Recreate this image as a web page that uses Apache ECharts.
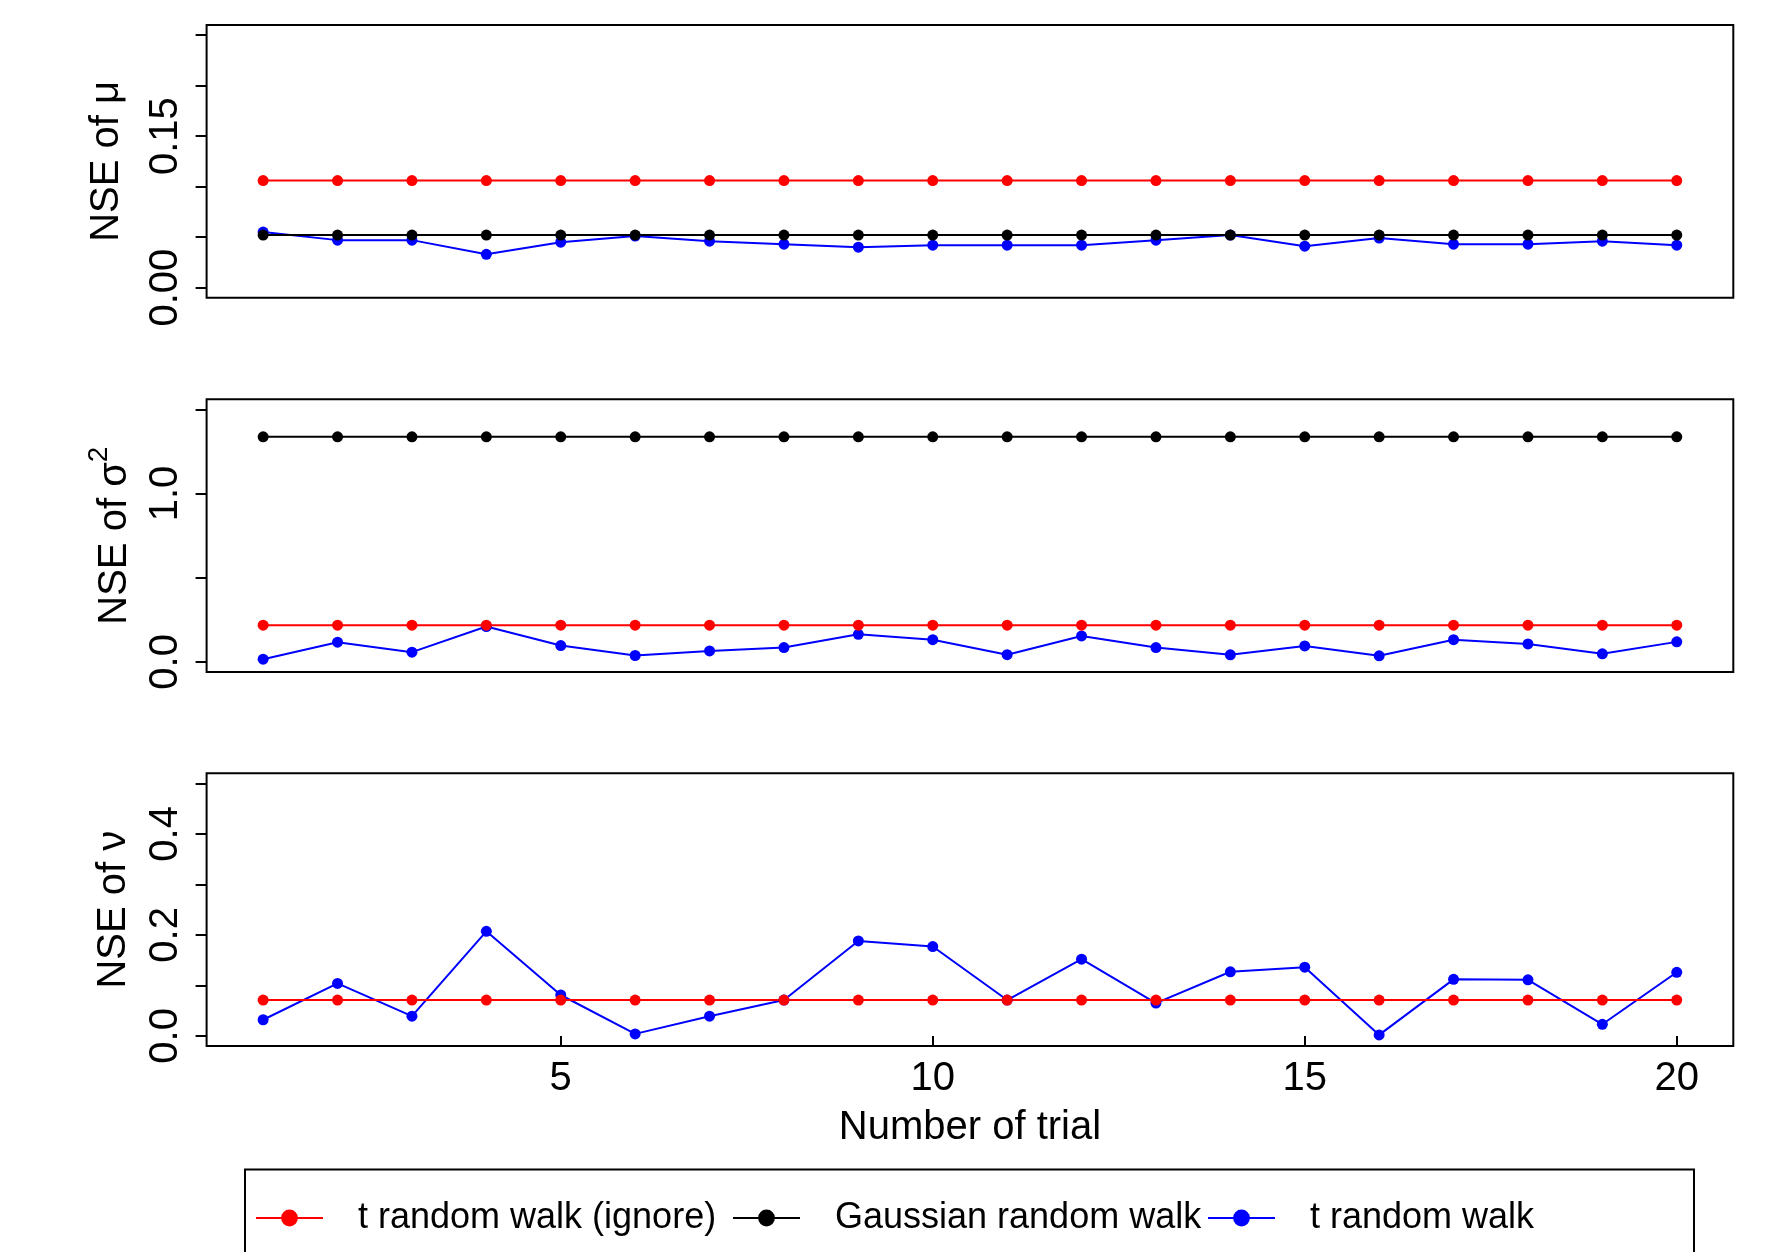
<!DOCTYPE html>
<html><head><meta charset="utf-8">
<script src="https://cdn.jsdelivr.net/npm/echarts@6/dist/echarts.min.js"></script>
<style>html,body{margin:0;padding:0;background:#fff}#c{width:1772px;height:1252px}</style>
</head><body><div id="c"></div>
<script>
// ---------- data ----------
const trials = [1,2,3,4,5,6,7,8,9,10,11,12,13,14,15,16,17,18,19,20];
const seriesNames = ['t random walk (ignore)', 'Gaussian random walk', 't random walk'];

const muTIgnore = [0.106,0.106,0.106,0.106,0.106,0.106,0.106,0.106,0.106,0.106,0.106,0.106,0.106,0.106,0.106,0.106,0.106,0.106,0.106,0.106];
const muGauss   = [0.052,0.052,0.052,0.052,0.052,0.052,0.052,0.052,0.052,0.052,0.052,0.052,0.052,0.052,0.052,0.052,0.052,0.052,0.052,0.052];
const muT       = [0.055,0.047,0.047,0.033,0.045,0.051,0.046,0.043,0.040,0.042,0.042,0.042,0.047,0.052,0.041,0.049,0.043,0.043,0.046,0.042];

const sigTIgnore = [0.218,0.218,0.218,0.218,0.218,0.218,0.218,0.218,0.218,0.218,0.218,0.218,0.218,0.218,0.218,0.218,0.218,0.218,0.218,0.218];
const sigGauss   = [1.337,1.337,1.337,1.337,1.337,1.337,1.337,1.337,1.337,1.337,1.337,1.337,1.337,1.337,1.337,1.337,1.337,1.337,1.337,1.337];
const sigT       = [0.016,0.117,0.058,0.210,0.097,0.038,0.065,0.085,0.164,0.132,0.043,0.154,0.085,0.042,0.095,0.036,0.132,0.107,0.048,0.119];

const nuTIgnore = [0.071,0.071,0.071,0.071,0.071,0.071,0.071,0.071,0.071,0.071,0.071,0.071,0.071,0.071,0.071,0.071,0.071,0.071,0.071,0.071];
const nuT       = [0.032,0.104,0.039,0.207,0.081,0.004,0.039,0.071,0.188,0.177,0.071,0.152,0.065,0.127,0.136,0.002,0.112,0.111,0.023,0.126];

const xTicks = [5,10,15,20];
const muTicks = [0,0.05,0.10,0.15,0.20,0.25];
const muLabels = [0,0.15];
const sigTicks = [0,0.5,1.0,1.5];
const sigLabels = [0,1.0];
const nuTicks = [0,0.1,0.2,0.3,0.4,0.5];
const nuLabels = [0,0.2,0.4];

// ---------- chart ----------
const FONT = '"Liberation Sans", Arial, Helvetica, sans-serif';
const RED = '#ff0000', BLACK = '#000000', BLUE = '#0000ff';
const pairs = arr => trials.map((t, i) => [t, arr[i]]);

const gridTops = [25, 399.3, 773.3];
const grid = gridTops.map(t => ({
  left: 206.6, right: 38.7, top: t, height: 272.7,
  show: true, borderColor: '#000', borderWidth: 2, backgroundColor: 'transparent',
  containLabel: false, outerBoundsMode: 'none'
}));

const txt = (size) => ({ fontSize: size, fontFamily: FONT, color: '#000' });

const xAxis = [0,1,2].map(i => ({
  gridIndex: i, type: 'value', min: 0.24, max: 20.76,
  axisLine: { show: false }, splitLine: { show: false },
  axisTick: { show: i === 2, customValues: xTicks, length: 11, inside: false, lineStyle: { color: '#000', width: 2 } },
  axisLabel: { show: i === 2, customValues: xTicks, margin: 13, ...txt(40) },
  name: i === 2 ? 'Number of trial' : '', nameLocation: 'middle', nameGap: 62,
  nameTextStyle: txt(40), nameMoveOverlap: false
}));

const yDefs = [
  { min: -0.01, max: 0.26, ticks: muTicks, labels: muLabels, dec: 2, name: 'NSE of μ', gap: 80, rich: {} },
  { min: -0.06, max: 1.56, ticks: sigTicks, labels: sigLabels, dec: 1, name: 'NSE of σ{sup|2}', gap: 63,
    rich: { sup: { fontSize: 28, fontFamily: FONT, color: '#000', padding: [0, 0, 30, 0] } } },
  { min: -0.02, max: 0.52, ticks: nuTicks, labels: nuLabels, dec: 1, name: 'NSE of ν', gap: 73, rich: {} }
];
const yAxis = yDefs.map((d, i) => ({
  gridIndex: i, type: 'value', min: d.min, max: d.max,
  axisLine: { show: false }, splitLine: { show: false },
  axisTick: { show: true, customValues: d.ticks, length: 11, inside: false, lineStyle: { color: '#000', width: 2 } },
  axisLabel: { customValues: d.labels, rotate: 90, margin: 21, formatter: v => Number(v).toFixed(d.dec), ...txt(40) },
  name: d.name, nameLocation: 'middle', nameGap: d.gap, nameRotate: 90, nameMoveOverlap: false,
  nameTextStyle: { ...txt(40), rich: d.rich }
}));

function line(name, data, color, idx) {
  return {
    type: 'line', name, data: pairs(data), xAxisIndex: idx, yAxisIndex: idx,
    symbol: 'circle', symbolSize: 11, showSymbol: true, showAllSymbol: true,
    lineStyle: { color, width: 2 }, itemStyle: { color, borderWidth: 0 },
    emphasis: { disabled: true }, animation: false, silent: true
  };
}

const series = [
  line(seriesNames[2], muT, BLUE, 0),
  line(seriesNames[1], muGauss, BLACK, 0),
  line(seriesNames[0], muTIgnore, RED, 0),
  line(seriesNames[2], sigT, BLUE, 1),
  line(seriesNames[1], sigGauss, BLACK, 1),
  line(seriesNames[0], sigTIgnore, RED, 1),
  line(seriesNames[2], nuT, BLUE, 2),
  line(seriesNames[0], nuTIgnore, RED, 2)
];

const legendLefts = [255, 732, 1207];
const legend = seriesNames.map((n, k) => ({
  data: [n], left: legendLefts[k], top: 1200, orient: 'horizontal', padding: 0,
  itemWidth: 67, itemHeight: 21, itemGap: 0, selectedMode: false,
  textStyle: { ...txt(36), padding: [0, 0, 0, 30] }
}));

const chart = echarts.init(document.getElementById('c'), null, { renderer: 'canvas' });
chart.setOption({
  backgroundColor: '#fff',
  animation: false,
  grid, xAxis, yAxis, series, legend,
  graphic: [{
    type: 'rect', silent: true, z: 0,
    shape: { x: 245, y: 1169.5, width: 1449, height: 200 },
    style: { fill: 'none', stroke: '#000', lineWidth: 2 }
  }]
});
</script></body></html>
